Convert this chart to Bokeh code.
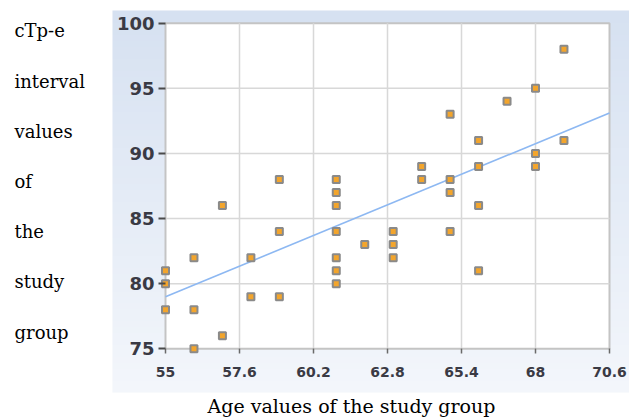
import numpy as np
from bokeh.plotting import figure
from bokeh.models import Range1d, FixedTicker, Label
from bokeh.embed import file_html
from bokeh.resources import INLINE

# ---- data ----
age = [55, 55, 55,
       56, 56, 56,
       57, 57,
       58, 58,
       59, 59, 59,
       61, 61, 61, 61, 61, 61, 61,
       62,
       63, 63, 63,
       64, 64,
       65, 65, 65, 65,
       66, 66, 66, 66,
       67,
       68, 68, 68,
       69, 69]
ctpe = [81, 80, 78,
        82, 78, 75,
        86, 76,
        82, 79,
        88, 84, 79,
        88, 87, 86, 84, 82, 81, 80,
        83,
        84, 83, 82,
        89, 88,
        93, 88, 87, 84,
        91, 89, 86, 81,
        94,
        95, 90, 89,
        98, 91]
trend_x = [55, 70.6]
trend_y = [79.0, 93.1]
x_ticks = [55, 57.6, 60.2, 62.8, 65.4, 68, 70.6]
x_tick_labels = ["55", "57.6", "60.2", "62.8", "65.4", "68", "70.6"]
y_ticks = [75, 80, 85, 90, 95, 100]
y_label_words = ["cTp-e", "interval", "values", "of", "the", "study", "group"]
x_title = "Age values of the study group"

# ---- layout (pixels on the 629x417 canvas) ----
W, H = 629, 417
PANEL_L, PANEL_T, PANEL_R, PANEL_B = 112, 10, 629, 392   # light-blue panel
PX0, PX1 = 165, 609                 # pixel of first / last x tick
PY_TOP, PY_BOT = 22.7, 348.3        # pixel of top / bottom y tick
px_x = (PX1 - PX0) / (x_ticks[-1] - x_ticks[0])
px_y = (PY_BOT - PY_TOP) / (y_ticks[-1] - y_ticks[0])
x_start = x_ticks[0] - PX0 / px_x
x_end = x_start + W / px_x
y_end = y_ticks[-1] + PY_TOP / px_y
y_start = y_end - H / px_y


def dx(px):
    return x_start + px / px_x


def dy(py):
    return y_end - py / px_y


p = figure(width=W, height=H, output_backend="svg", toolbar_location=None,
           x_range=Range1d(x_start, x_end), y_range=Range1d(y_start, y_end),
           min_border=0, min_border_left=0, min_border_right=0,
           min_border_top=0, min_border_bottom=0)
p.border_fill_color = "white"
p.background_fill_color = "white"
p.outline_line_color = None
p.grid.grid_line_color = None

# light-blue panel with a soft vertical gradient
n = 64
top_c = np.array([0xd6, 0xe1, 0xf1], dtype=float)
bot_c = np.array([0xf3, 0xf6, 0xfb], dtype=float)
img = np.empty((n, 1), dtype=np.uint32)
view = img.view(dtype=np.uint8).reshape((n, 1, 4))
for i in range(n):
    t = i / (n - 1)
    view[i, 0, :3] = np.round(bot_c * (1 - t) + top_c * t).astype(np.uint8)
    view[i, 0, 3] = 255
p.image_rgba(image=[img], x=dx(PANEL_L), y=dy(PANEL_B),
             dw=(PANEL_R - PANEL_L) / px_x, dh=(PANEL_B - PANEL_T) / px_y)

# white plotting area with grey border
p.quad(left=[x_ticks[0]], right=[x_ticks[-1]], bottom=[y_ticks[0]], top=[y_ticks[-1]],
       fill_color="white", line_color="#c4c4c4", line_width=2)

# grid lines
vx = x_ticks[1:-1]
p.segment(x0=vx, x1=vx, y0=[y_ticks[0]] * len(vx), y1=[y_ticks[-1]] * len(vx),
          line_color="#d8d8d8", line_width=1.5)
hy = y_ticks[1:-1]
p.segment(x0=[x_ticks[0]] * len(hy), x1=[x_ticks[-1]] * len(hy), y0=hy, y1=hy,
          line_color="#d8d8d8", line_width=1.5)

# trend line
p.line(trend_x, trend_y, line_color="#8db8f2", line_width=1.6)

# points
p.scatter(age, ctpe, marker="square", size=7, fill_color="#f3a52c",
          line_color="#8a8a8a", line_width=2)

# axes placed on the plotting-area edges
xa = p.xaxis[0]
xa.fixed_location = y_ticks[0]
xa.ticker = FixedTicker(ticks=x_ticks)
xa.major_label_overrides = {t: s for t, s in zip(x_ticks, x_tick_labels)}
xa.axis_line_color = None
xa.major_tick_in = 0
xa.major_tick_out = 5
xa.major_tick_line_color = "#6a6a6a"
xa.major_tick_line_width = 1.5
xa.minor_tick_line_color = None
xa.major_label_standoff = 13
xa.major_label_text_font = "DejaVu Sans"
xa.major_label_text_font_style = "bold"
xa.major_label_text_font_size = "14px"
xa.major_label_text_color = "#3a3a44"

ya = p.yaxis[0]
ya.fixed_location = x_ticks[0]
ya.ticker = FixedTicker(ticks=y_ticks)
ya.axis_line_color = None
ya.major_tick_in = 0
ya.major_tick_out = 7
ya.major_tick_line_color = "#4a4a4a"
ya.major_tick_line_width = 2
ya.minor_tick_line_color = None
ya.major_label_standoff = 4
ya.major_label_text_font = "DejaVu Sans"
ya.major_label_text_font_style = "bold"
ya.major_label_text_font_size = "18px"
ya.major_label_text_color = "#3a3a44"

# y title: stacked words left of the panel (screen units from frame bottom-left)
for i, w in enumerate(y_label_words):
    p.add_layout(Label(x=14, y=H - (30.3 + 50.2 * i),
                       x_units="screen", y_units="screen", text=w,
                       text_font="DejaVu Serif", text_font_size="18px",
                       text_baseline="alphabetic", text_align="left", text_color="black"))

# x title below the panel
p.add_layout(Label(x=351, y=H - 405, x_units="screen", y_units="screen",
                   text=x_title, text_font="DejaVu Serif", text_font_size="19px",
                   text_baseline="alphabetic", text_align="center", text_color="black"))

open("out.html", "w").write(file_html(p, INLINE))
